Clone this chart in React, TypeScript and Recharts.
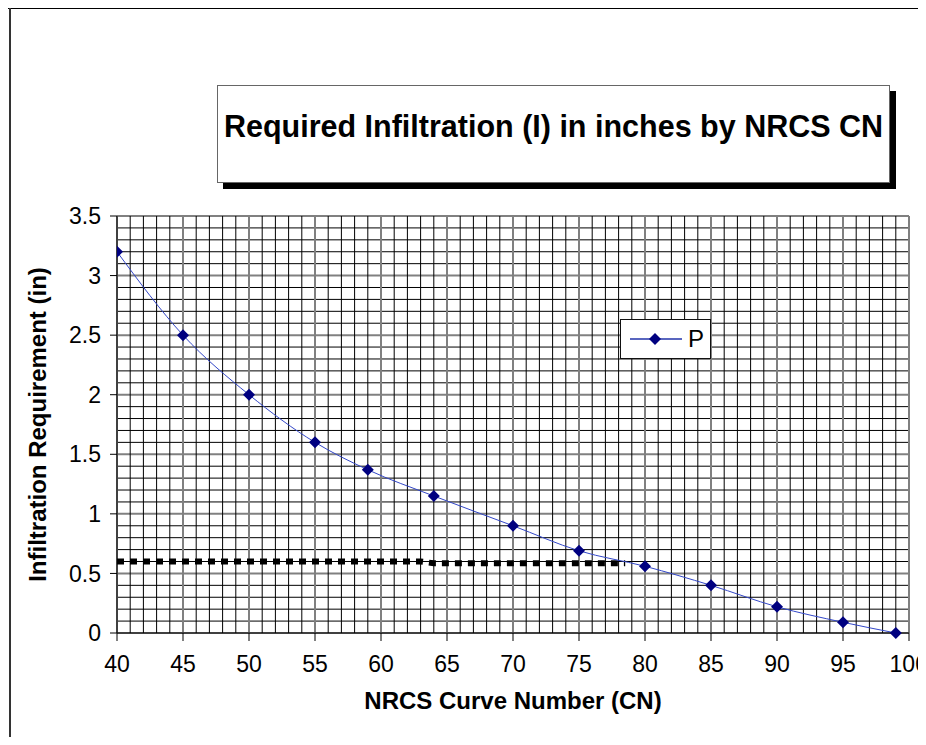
import { Label, Legend, Line, LineChart, ReferenceLine, XAxis, YAxis } from "recharts";

// CN vs required infiltration (P series)
const cnValues = [40, 45, 50, 55, 59, 64, 70, 75, 80, 85, 90, 95, 99];
const infiltration = [3.2, 2.5, 2.0, 1.6, 1.37, 1.15, 0.9, 0.69, 0.56, 0.4, 0.22, 0.09, 0];

// dotted black target line
const targetCn = [40, 63, 64, 78.5];
const targetValues = [0.6, 0.6, 0.585, 0.585];

const xTicks = [40, 45, 50, 55, 60, 65, 70, 75, 80, 85, 90, 95, 100];
const yTicks = [0, 0.5, 1, 1.5, 2, 2.5, 3, 3.5];

const xGrid = Array.from({ length: 61 }, (_, i) => 40 + i);
const yGrid = Array.from({ length: 36 }, (_, i) => i / 10);

const pData = cnValues.map((x, i) => ({ x, p: infiltration[i] }));
const targetData = targetCn.map((x, i) => ({ x, t: targetValues[i] }));

const FONT = "'Liberation Sans', Arial, sans-serif";

function Diamond(props: any) {
  const { cx, cy } = props;
  if (cx == null || cy == null) return null;
  const r = 6;
  return <path d={`M${cx},${cy - r}L${cx + r},${cy}L${cx},${cy + r}L${cx - r},${cy}Z`} fill="#000080" />;
}

function LegendBox() {
  return (
    <div
      style={{
        width: 89,
        height: 38,
        border: "1px solid #111",
        background: "#fff",
        display: "flex",
        alignItems: "center",
        fontFamily: FONT,
        fontSize: 24,
      }}
    >
      <svg width={62} height={20} style={{ marginLeft: 8 }}>
        <line x1={1} y1={10} x2={53} y2={10} stroke="#2233aa" strokeWidth={1.5} />
        <path d="M26,4L32,10L26,16L20,10Z" fill="#000080" />
      </svg>
      <span style={{ marginLeft: -3 }}>P</span>
    </div>
  );
}

const isMajorY = (v: number) => Math.abs(v * 2 - Math.round(v * 2)) < 1e-6;

export default function App() {
  return (
    <div style={{ position: "relative", width: 918, height: 729, background: "#fff", overflow: "hidden" }}>
      <div
        style={{
          position: "absolute",
          left: 209,
          top: 77,
          width: 673,
          height: 98,
          border: "1px solid #666",
          boxShadow: "6px 6px 0 #000",
          background: "#fff",
          fontFamily: FONT,
          fontWeight: "bold",
          fontSize: 30.5,
          textAlign: "center",
          paddingTop: 23,
          boxSizing: "border-box",
          whiteSpace: "nowrap",
          zIndex: 2,
        }}
      >
        Required Infiltration (I) in inches by NRCS CN
      </div>

      <LineChart width={918} height={729} margin={{ top: 208, right: 17, bottom: 14, left: 0 }}>
        <XAxis
          type="number"
          dataKey="x"
          domain={[40, 100]}
          ticks={xTicks}
          allowDataOverflow
          height={90}
          tickSize={8}
          tickMargin={15}
          stroke="#000"
          tick={{ fill: "#000", fontSize: 23, fontFamily: FONT }}
        >
          <Label
            content={({ viewBox }: any) => (
              <text
                x={viewBox.x + viewBox.width / 2}
                y={viewBox.y + 76}
                textAnchor="middle"
                fontFamily={FONT}
                fontWeight="bold"
                fontSize={24}
                fill="#000"
              >
                NRCS Curve Number (CN)
              </text>
            )}
          />
        </XAxis>
        <YAxis
          type="number"
          domain={[0, 3.5]}
          ticks={yTicks}
          width={109}
          tickSize={7}
          tickMargin={9}
          stroke="#000"
          tick={{ fill: "#000", fontSize: 23, fontFamily: FONT }}
        >
          <Label
            content={({ viewBox }: any) => {
              const cx = 29;
              const cy = viewBox.y + viewBox.height / 2;
              return (
                <text
                  x={cx}
                  y={cy}
                  transform={`rotate(-90 ${cx} ${cy})`}
                  textAnchor="middle"
                  dominantBaseline="central"
                  fontFamily={FONT}
                  fontWeight="bold"
                  fontSize={24}
                  fill="#000"
                >
                  Infiltration Requirement (in)
                </text>
              );
            }}
          />
        </YAxis>

        {yGrid.map((v) => (
          <ReferenceLine
            key={`h${v}`}
            y={v}
            stroke={isMajorY(v) ? "#808080" : "#000"}
            strokeWidth={isMajorY(v) ? 2 : 1}
          />
        ))}
        {xGrid.map((v) => (
          <ReferenceLine
            key={`v${v}`}
            x={v}
            stroke={v % 5 === 0 ? "#808080" : "#000"}
            strokeWidth={v % 5 === 0 ? 2 : 1}
          />
        ))}

        <Line
          data={targetData}
          dataKey="t"
          type="linear"
          stroke="#000"
          strokeWidth={6}
          strokeDasharray="7 6"
          dot={false}
          activeDot={false}
          legendType="none"
          isAnimationActive={false}
        />
        <Line
          data={pData}
          dataKey="p"
          name="P"
          type="monotone"
          stroke="#3347c8"
          strokeWidth={1}
          dot={<Diamond />}
          activeDot={false}
          isAnimationActive={false}
        />
        <Legend
          layout="vertical"
          align="center"
          verticalAlign="middle"
          content={() => <LegendBox />}
          wrapperStyle={{ left: 612, top: 311, width: 91, height: 40 }}
        />
      </LineChart>

      {/* chart frame: only the top and left edges fall inside the window */}
      <div style={{ position: "absolute", left: 0, top: 0, width: 918, height: 1, background: "#000", zIndex: 3 }} />
      <div style={{ position: "absolute", left: 1, top: 0, width: 2, height: 729, background: "#333", zIndex: 3 }} />
    </div>
  );
}
